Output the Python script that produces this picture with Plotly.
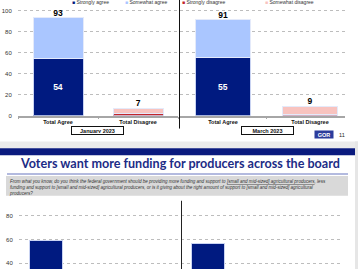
import plotly.graph_objects as go

W, H = 358, 272
def X(px): return px / W
def Y(py): return 1 - py / H

# ---------------- data ----------------
categories = ["Total Agree", "Total Disagree"]
jan_strong = [54, 2]
jan_somewhat = [39, 5]
mar_strong = [55, 1]
mar_somewhat = [36, 8]
period_labels = ["January 2023", "March 2023"]
legend_agree = ["Strongly agree", "Somewhat agree"]
legend_disagree = ["Strongly disagree", "Somewhat disagree"]
y_ticks_top = [0, 20, 40, 60, 80, 100]

funding_cat = ["More funding"]
funding_jan = [59]
funding_mar = [57]
y_ticks_bottom = [40, 60, 80]

title_text = "Voters want more funding for producers across the board"
question_lines = [
    "From what you know, do you think the federal government should be providing more funding and support to <u>[small and mid-sized] agricultural producers</u>, less",
    "funding and support to [small and mid-sized] agricultural producers, or is it giving about the right amount of support to [small and mid-sized] agricultural",
    "producers?",
]

NAVY = "#001A80"
LIGHT = "#AAC6FF"
DRED = "#C0262C"
PINK = "#F8C3BF"
EDGE = "#C9D3F2"
FONT = "Liberation Sans"

fig = go.Figure()

def add_stack(strong, somewhat, xa, ya):
    fig.add_trace(go.Bar(
        x=categories, y=strong, xaxis=xa, yaxis=ya,
        marker=dict(color=[NAVY, DRED], line=dict(color=EDGE, width=1)),
        text=[str(strong[0]), ""], textposition="inside", insidetextanchor="middle",
        textfont=dict(color="white", size=8.5, family=FONT, weight="bold"),
        showlegend=False, hoverinfo="skip"))
    fig.add_trace(go.Bar(
        x=categories, y=somewhat, xaxis=xa, yaxis=ya,
        marker=dict(color=[LIGHT, PINK], line=dict(color="#E4EAFA", width=1)),
        showlegend=False, hoverinfo="skip"))
    totals = [a + b for a, b in zip(strong, somewhat)]
    fig.add_trace(go.Scatter(
        x=categories, y=totals, xaxis=xa, yaxis=ya, mode="text",
        text=[str(t) for t in totals], textposition="top center",
        textfont=dict(color="black", size=8.5, family=FONT, weight="bold"),
        cliponaxis=False, showlegend=False, hoverinfo="skip"))

add_stack(jan_strong, jan_somewhat, "x", "y")
add_stack(mar_strong, mar_somewhat, "x2", "y2")

fig.add_trace(go.Bar(x=funding_cat, y=funding_jan, xaxis="x3", yaxis="y3",
                     marker=dict(color=NAVY, line=dict(color=EDGE, width=1)),
                     showlegend=False, hoverinfo="skip"))
fig.add_trace(go.Bar(x=funding_cat, y=funding_mar, xaxis="x4", yaxis="y4",
                     marker=dict(color=NAVY, line=dict(color=EDGE, width=1)),
                     showlegend=False, hoverinfo="skip"))

grid = dict(showgrid=True, gridcolor="#BDBDBD", griddash="dot", gridwidth=1,
            zeroline=False, showline=False)
tickf = dict(family=FONT, size=6, color="#333333")
xcat = dict(type="category", showline=True, linecolor="#A6A6A6", linewidth=1.5,
            ticks="outside", tickson="boundaries", ticklen=2, tickcolor="#A6A6A6",
            showgrid=False, zeroline=False,
            tickfont=dict(family=FONT, size=5.5, color="#111111", weight="bold"))

fig.update_layout(
    width=W, height=H, autosize=False,
    margin=dict(l=0, r=0, t=0, b=0),
    template="plotly_white",
    paper_bgcolor="white", plot_bgcolor="white",
    barmode="stack", bargap=0.375,
    xaxis=dict(domain=[X(18), X(178)], range=[-0.5, 1.5], anchor="y", **xcat),
    yaxis=dict(domain=[Y(117), 1], range=[0, 110], tickvals=y_ticks_top,
               ticks="outside", ticklen=4, tickcolor="rgba(0,0,0,0)",
               tickfont=tickf, anchor="x", **grid),
    xaxis2=dict(domain=[X(180), X(345)], range=[-0.494, 1.403], anchor="y2", **xcat),
    yaxis2=dict(domain=[Y(117), 1], range=[0, 110], tickvals=y_ticks_top,
                showticklabels=False, anchor="x2", **grid),
    xaxis3=dict(domain=[X(19), X(181)], range=[-0.5, 2.5], type="category",
                showticklabels=False, showline=False, showgrid=False, zeroline=False,
                anchor="y3"),
    yaxis3=dict(domain=[0, Y(203)], range=[35.25, 92.75], tickvals=y_ticks_bottom,
                ticks="outside", ticklen=4, tickcolor="rgba(0,0,0,0)",
                tickfont=tickf, anchor="x3", **grid),
    xaxis4=dict(domain=[X(181), X(343)], range=[-0.5, 2.5], type="category",
                showticklabels=False, showline=False, showgrid=False, zeroline=False,
                anchor="y4"),
    yaxis4=dict(domain=[0, Y(203)], range=[35.25, 92.75], tickvals=y_ticks_bottom,
                showticklabels=False, anchor="x4", **grid),
)

def rect(x0, y0, x1, y1, color):
    fig.add_shape(type="rect", xref="paper", yref="paper",
                  x0=X(x0), x1=X(x1), y0=Y(y1), y1=Y(y0),
                  fillcolor=color, line=dict(width=0), layer="below")

def line(x0, y0, x1, y1, color, width=1):
    fig.add_shape(type="line", xref="paper", yref="paper",
                  x0=X(x0), x1=X(x1), y0=Y(y0), y1=Y(y1),
                  line=dict(color=color, width=width))

rect(0, 143, 358, 150, "#EBEBEB")
rect(0, 150, 355, 157, "#0A1A7E")
rect(355, 143, 358, 272, "#E6E6E6")
rect(6, 178, 348, 198, "#D9D9D9")
line(7, 176, 348, 176, "#9AA3D4", 1.5)
line(179.5, 0, 179.5, 130, "#111111", 1)
line(181.5, 203, 181.5, 272, "#222222", 1)

def ann(text, x, y, **kw):
    d = dict(text=text, x=X(x), y=Y(y), xref="paper", yref="paper",
             showarrow=False)
    d.update(kw)
    fig.add_annotation(**d)

legend_font = dict(family=FONT, size=5, color="#333333")
for label, col, px in zip(legend_agree, [NAVY, LIGHT], [70, 123]):
    ann(f'<span style="color:{col}">■</span> {label}', px, 2.5,
        xanchor="left", yanchor="middle", font=legend_font)
for label, col, px in zip(legend_disagree, [DRED, PINK], [180, 263]):
    ann(f'<span style="color:{col}">■</span> {label}', px, 2.5,
        xanchor="left", yanchor="middle", font=legend_font)

for label, cx in zip(period_labels, [97.5, 267.5]):
    ann(label, cx, 131.7, xanchor="center", yanchor="middle",
        bordercolor="#111111", borderwidth=1, borderpad=1, bgcolor="white",
        width=49, height=5,
        font=dict(family=FONT, size=5.5, color="#111111", weight="bold"))

ann("GQR", 324, 135.5, xanchor="center", yanchor="middle", bgcolor="#2B3C9C",
    width=16, height=5, borderpad=1,
    font=dict(family=FONT, size=5.5, color="white", weight="bold"))
ann("11", 342, 137, xanchor="center", yanchor="middle",
    font=dict(family=FONT, size=5.5, color="#222222"))

ann(title_text, 18, 165.5, xanchor="left", yanchor="middle",
    font=dict(family="Lato", size=12.6, color="#1C2C86", weight="bold"))

ann("<i>" + "<br>".join(question_lines) + "</i>", 7, 179.3,
    xanchor="left", yanchor="top", align="left",
    font=dict(family=FONT, size=4.55, color="#333333"))

fig.write_html("out.html")
